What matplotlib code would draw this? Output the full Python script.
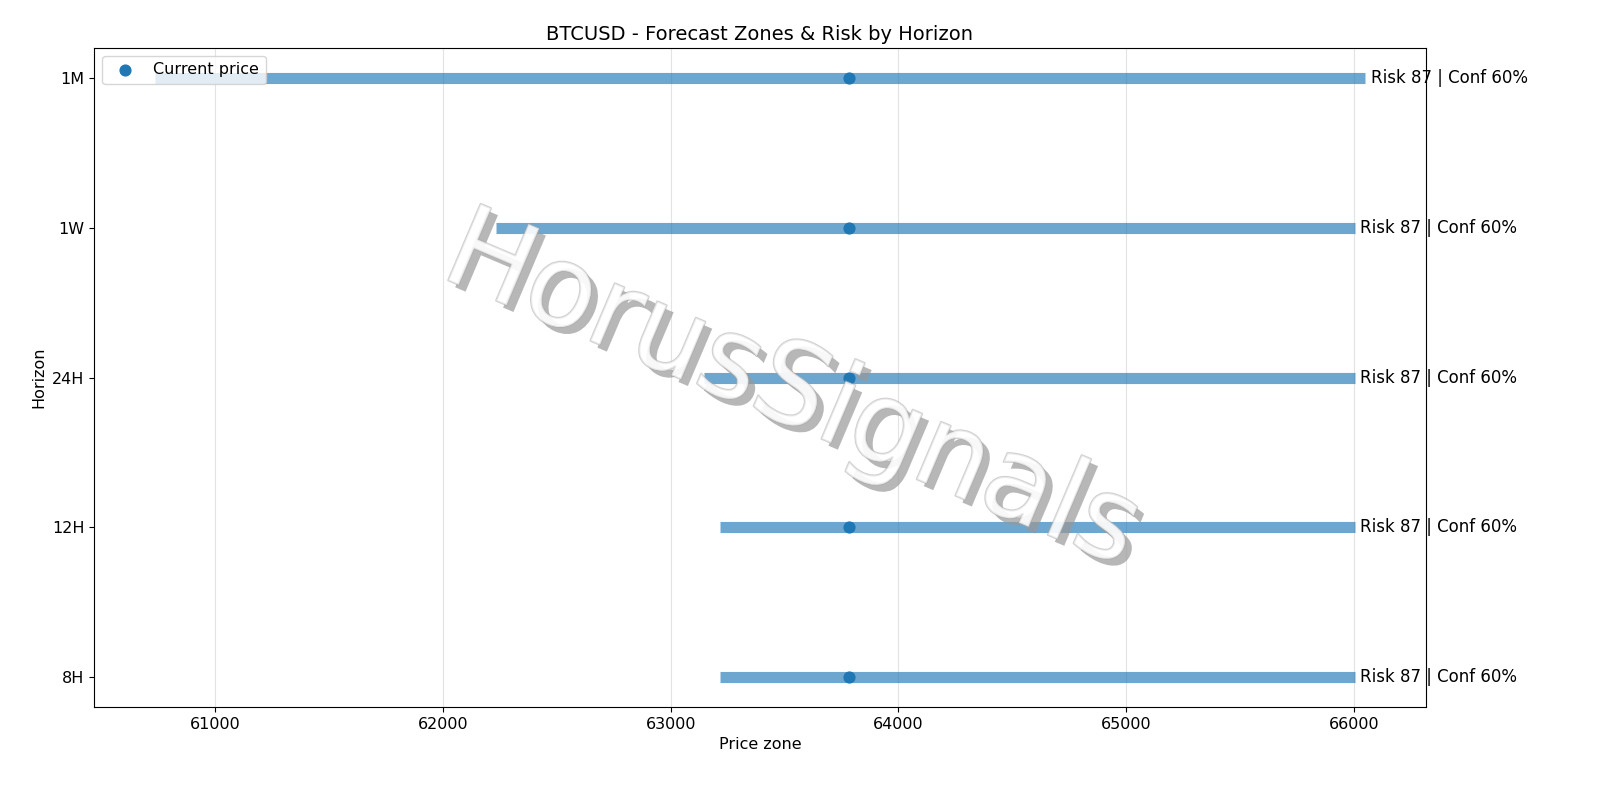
import matplotlib
matplotlib.use("Agg")
import matplotlib.pyplot as plt
import matplotlib.patheffects as pe

horizons = ["8H", "12H", "24H", "1W", "1M"]
lows = [63218, 63218, 63148, 62232, 60735]
highs = [66004, 66004, 66004, 66004, 66050]
current = 63782
labels = ["Risk 87 | Conf 60%"] * 5

fig, ax = plt.subplots(figsize=(16, 8), dpi=100)
y = list(range(len(horizons)))
for i in y:
    ax.hlines(i, lows[i], highs[i], linewidth=8, color="#1f77b4", alpha=0.65)
    ax.text(highs[i] + 25, i, labels[i], va="center", ha="left", fontsize=12)
ax.scatter([current] * len(y), y, s=60, color="#1f77b4", zorder=3, label="Current price")
ax.set_yticks(y)
ax.set_yticklabels(horizons, fontsize=11.5)
ax.tick_params(axis="x", labelsize=11.5)
ax.set_xlabel("Price zone", fontsize=11.5)
ax.set_ylabel("Horizon", fontsize=11.5)
ax.set_title("BTCUSD - Forecast Zones & Risk by Horizon", fontsize=14)
ax.grid(axis="x", alpha=0.35)
ax.legend(loc="upper left", fontsize=11.5)
fig.text(0.495, 0.51, "HorusSignals", fontsize=82, rotation=-23, color="white", alpha=0.55,
         ha="center", va="center", zorder=10,
         path_effects=[pe.withSimplePatchShadow(offset=(5, -5), shadow_rgbFace="#999999", alpha=0.7),
                       pe.Stroke(linewidth=1.5, foreground="#aaaaaa"), pe.Normal()])
fig.subplots_adjust(left=0.059, right=0.891, top=0.94, bottom=0.116)
fig.savefig("out.png")
